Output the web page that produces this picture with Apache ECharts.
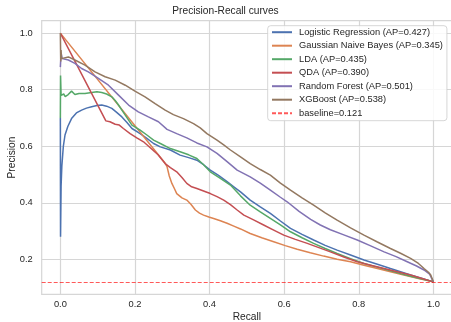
<!DOCTYPE html>
<html>
<head>
<meta charset="utf-8">
<script src="https://cdn.jsdelivr.net/npm/echarts@6/dist/echarts.min.js"></script>
<style>
  html, body { margin: 0; padding: 0; background: #fff; }
  #chart { width: 451px; height: 322px; }
</style>
</head>
<body>
<div id="chart"></div>
<script>
// precision-recall curves, [recall, precision] pairs
const lrCurve = [
  [0, 0.70], [0.0005, 0.28], [0.002, 0.46], [0.004, 0.53], [0.008, 0.60], [0.0125, 0.64], [0.02, 0.67],
  [0.03, 0.698], [0.043, 0.718], [0.057, 0.728], [0.07, 0.735], [0.084, 0.74], [0.098, 0.744], [0.111, 0.746],
  [0.124, 0.742], [0.138, 0.734], [0.151, 0.72], [0.165, 0.704], [0.178, 0.685], [0.192, 0.663], [0.214, 0.645],
  [0.232, 0.628], [0.25, 0.61], [0.268, 0.598], [0.295, 0.587], [0.321, 0.569], [0.344, 0.56], [0.366, 0.551],
  [0.384, 0.535], [0.402, 0.516], [0.424, 0.497], [0.447, 0.475], [0.465, 0.457], [0.483, 0.439], [0.509, 0.41],
  [0.536, 0.386], [0.563, 0.363], [0.59, 0.336], [0.617, 0.31], [0.648, 0.289], [0.679, 0.269], [0.71, 0.25],
  [0.742, 0.233], [0.778, 0.216], [0.814, 0.198], [0.85, 0.183], [0.885, 0.168], [0.912, 0.157], [0.939, 0.145],
  [0.97, 0.133], [1, 0.121]
];
const gnbCurve = [
  [0, 1], [0.281, 0.54], [0.286, 0.528], [0.292, 0.495], [0.299, 0.469], [0.306, 0.45], [0.312, 0.433],
  [0.326, 0.418], [0.339, 0.41], [0.35, 0.395], [0.362, 0.375], [0.373, 0.364], [0.384, 0.357], [0.398, 0.35],
  [0.411, 0.345], [0.429, 0.337], [0.447, 0.328], [0.465, 0.318], [0.483, 0.308], [0.509, 0.292], [0.54, 0.277],
  [0.572, 0.263], [0.603, 0.249], [0.635, 0.236], [0.67, 0.224], [0.706, 0.212], [0.742, 0.201], [0.778, 0.192],
  [0.814, 0.18], [0.85, 0.168], [0.885, 0.157], [0.921, 0.145], [0.96, 0.133], [1, 0.121]
];
const ldaCurve = [
  [0, 0.70], [0.0005, 0.85], [0.002, 0.78], [0.004, 0.775], [0.009, 0.785], [0.013, 0.776], [0.021, 0.783],
  [0.03, 0.795], [0.039, 0.783], [0.05, 0.787], [0.066, 0.787], [0.084, 0.79], [0.098, 0.793], [0.111, 0.79],
  [0.124, 0.785], [0.138, 0.775], [0.147, 0.762], [0.156, 0.746], [0.165, 0.728], [0.174, 0.71], [0.192, 0.675],
  [0.214, 0.657], [0.232, 0.64], [0.25, 0.622], [0.268, 0.61], [0.295, 0.592], [0.321, 0.581], [0.344, 0.57],
  [0.366, 0.557], [0.384, 0.535], [0.402, 0.51], [0.429, 0.487], [0.456, 0.463], [0.483, 0.425], [0.509, 0.392],
  [0.536, 0.368], [0.563, 0.345], [0.59, 0.322], [0.617, 0.298], [0.648, 0.277], [0.679, 0.257], [0.71, 0.239],
  [0.742, 0.221], [0.778, 0.203], [0.814, 0.186], [0.85, 0.173], [0.885, 0.16], [0.912, 0.15], [0.939, 0.141],
  [0.97, 0.131], [1, 0.121]
];
const qdaCurve = [
  [0, 1], [0.122, 0.69], [0.133, 0.687], [0.147, 0.678], [0.158, 0.675], [0.169, 0.663], [0.187, 0.645],
  [0.205, 0.63], [0.223, 0.616], [0.241, 0.595], [0.262, 0.57], [0.281, 0.539], [0.295, 0.525], [0.312, 0.51],
  [0.326, 0.49], [0.339, 0.469], [0.352, 0.457], [0.366, 0.451], [0.384, 0.442], [0.402, 0.433], [0.42, 0.422],
  [0.438, 0.41], [0.456, 0.394], [0.474, 0.375], [0.492, 0.357], [0.518, 0.34], [0.545, 0.322], [0.572, 0.304],
  [0.599, 0.286], [0.63, 0.271], [0.662, 0.257], [0.693, 0.242], [0.724, 0.227], [0.76, 0.209], [0.796, 0.192],
  [0.832, 0.18], [0.868, 0.168], [0.903, 0.157], [0.939, 0.145], [0.97, 0.133], [1, 0.121]
];
const rfCurve = [
  [0, 0.88], [0.002, 0.93], [0.005, 0.91], [0.01, 0.915], [0.0215, 0.905], [0.039, 0.893], [0.057, 0.875],
  [0.075, 0.863], [0.102, 0.84], [0.129, 0.816], [0.156, 0.781], [0.183, 0.746], [0.209, 0.722], [0.236, 0.704],
  [0.263, 0.687], [0.286, 0.66], [0.312, 0.645], [0.339, 0.63], [0.366, 0.612], [0.393, 0.598], [0.42, 0.575],
  [0.447, 0.546], [0.474, 0.516], [0.509, 0.492], [0.536, 0.47], [0.563, 0.445], [0.59, 0.42], [0.608, 0.404],
  [0.64, 0.37], [0.671, 0.342], [0.697, 0.322], [0.724, 0.305], [0.76, 0.287], [0.796, 0.269], [0.832, 0.248],
  [0.868, 0.227], [0.9, 0.21], [0.93, 0.192], [0.955, 0.177], [0.975, 0.163], [0.99, 0.148], [1, 0.121]
];
const xgbCurve = [
  [0, 1], [0.001, 0.9], [0.002, 0.94], [0.003, 0.91], [0.004, 0.916], [0.0215, 0.916], [0.039, 0.905],
  [0.066, 0.887], [0.093, 0.863], [0.12, 0.846], [0.147, 0.834], [0.174, 0.816], [0.2, 0.795], [0.227, 0.775],
  [0.254, 0.751], [0.281, 0.728], [0.303, 0.712], [0.33, 0.698], [0.357, 0.68], [0.375, 0.665], [0.393, 0.645],
  [0.42, 0.622], [0.438, 0.605], [0.456, 0.587], [0.483, 0.563], [0.509, 0.539], [0.536, 0.518], [0.563, 0.498],
  [0.59, 0.47], [0.617, 0.445], [0.648, 0.418], [0.679, 0.392], [0.71, 0.365], [0.742, 0.339], [0.778, 0.312],
  [0.814, 0.286], [0.85, 0.262], [0.885, 0.239], [0.912, 0.222], [0.939, 0.204], [0.96, 0.186], [0.975, 0.168],
  [0.987, 0.155], [0.993, 0.145], [1, 0.121]
];

const modelNames = ['Logistic Regression', 'Gaussian Naive Bayes', 'LDA', 'QDA', 'Random Forest', 'XGBoost'];
const apScores = [0.427, 0.345, 0.435, 0.390, 0.501, 0.538];
const curves = [lrCurve, gnbCurve, ldaCurve, qdaCurve, rfCurve, xgbCurve];
const colors = ['#4c72b0', '#dd8452', '#55a868', '#c44e52', '#8172b3', '#937860'];
const baseline = 0.121;

const xTicks = [0, 0.2, 0.4, 0.6, 0.8, 1.0];
const yTicks = [0.2, 0.4, 0.6, 0.8, 1.0];

const FONT = '"Liberation Sans", Arial, sans-serif';
const TEXT = '#262626';
const GRID = '#d6d6d6';
const BASE_RED = 'rgba(255,0,0,0.65)';

const series = curves.map((data, i) => ({
  name: `${modelNames[i]} (AP=${apScores[i].toFixed(3)})`,
  type: 'line',
  data,
  symbol: 'none',
  lineStyle: { color: colors[i], width: 1.5 },
  itemStyle: { color: colors[i] },
}));

// baseline as dashed horizontal line
series.push({
  name: `baseline=${baseline}`,
  type: 'line',
  data: [],
  symbol: 'none',
  lineStyle: { color: BASE_RED, width: 1.2, type: [4, 2] },
  itemStyle: { color: BASE_RED },
  markLine: {
    silent: true,
    symbol: 'none',
    label: { show: false },
    lineStyle: { color: BASE_RED, width: 1.2, type: [4, 2] },
    data: [{ yAxis: baseline }],
  },
});

const chart = echarts.init(document.getElementById('chart'));
chart.setOption({
  animation: false,
  backgroundColor: '#fff',
  textStyle: { fontFamily: FONT },
  title: {
    text: 'Precision-Recall curves',
    left: 'center',
    top: 6,
    padding: 0,
    textStyle: { fontFamily: FONT, fontSize: 10.2, fontWeight: 'normal', color: TEXT },
  },
  legend: {
    orient: 'vertical',
    left: 267.7,
    top: 25.7,
    padding: [2, 4, 3, 3.3],
    itemWidth: 20,
    itemHeight: 10,
    itemGap: 4.5,
    itemStyle: { opacity: 0 },
    backgroundColor: 'rgba(255,255,255,0.85)',
    borderColor: '#cccccc',
    borderWidth: 0.8,
    borderRadius: 3,
    textStyle: { fontFamily: FONT, fontSize: 9.3, color: TEXT, padding: [0, 0, 0, 2] },
  },
  grid: {
    left: 41.7,
    right: -1,
    top: 20.7,
    bottom: 27.7,
    show: true,
    borderColor: GRID,
    borderWidth: 1.2,
    outerBoundsMode: 'none',
  },
  xAxis: {
    type: 'value',
    min: -0.05,
    max: 1.05,
    name: 'Recall',
    nameLocation: 'middle',
    nameGap: 18,
    nameMoveOverlap: false,
    nameTextStyle: { fontFamily: FONT, fontSize: 10.2, color: TEXT },
    axisLine: { show: false },
    axisTick: { show: false, customValues: xTicks },
    axisLabel: {
      customValues: xTicks,
      margin: 6,
      fontSize: 9.3,
      color: TEXT,
      formatter: v => v.toFixed(1),
    },
    splitLine: { show: true, lineStyle: { color: GRID, width: 1.2 } },
  },
  yAxis: {
    type: 'value',
    min: 0.077,
    max: 1.044,
    name: 'Precision',
    nameLocation: 'middle',
    nameGap: 25,
    nameMoveOverlap: false,
    nameTextStyle: { fontFamily: FONT, fontSize: 10.2, color: TEXT },
    axisLine: { show: false },
    axisTick: { show: false, customValues: yTicks },
    axisLabel: {
      customValues: yTicks,
      margin: 9,
      fontSize: 9.3,
      color: TEXT,
      formatter: v => v.toFixed(1),
    },
    splitLine: { show: true, lineStyle: { color: GRID, width: 1.2 } },
  },
  series,
});
</script>
</body>
</html>
